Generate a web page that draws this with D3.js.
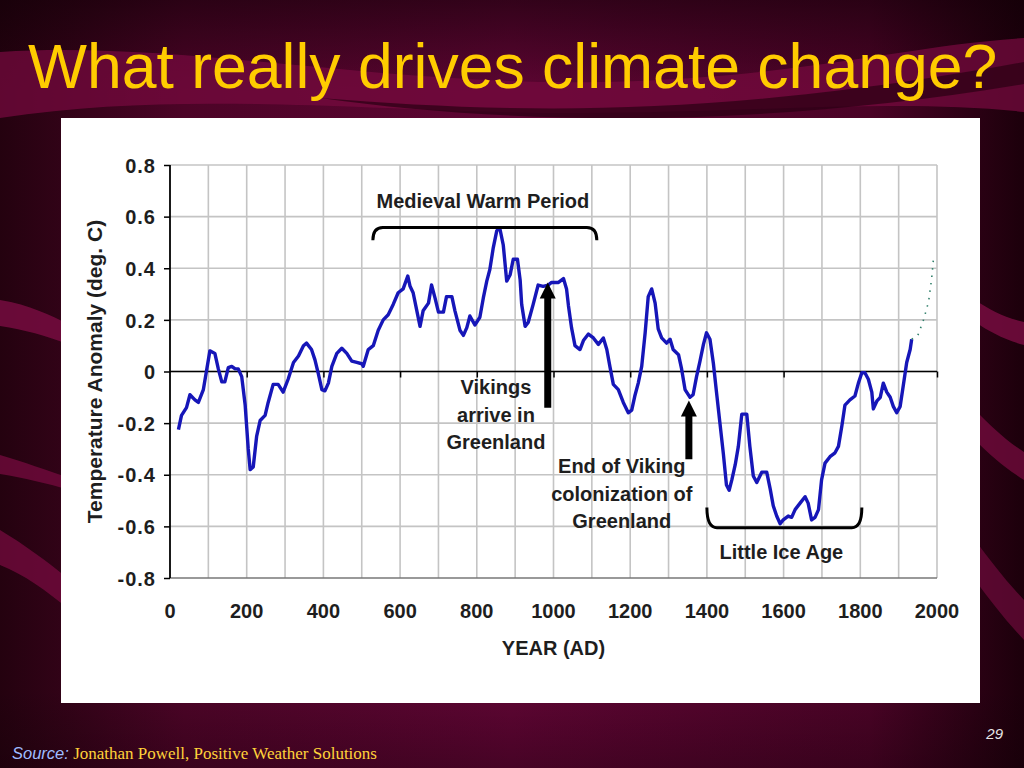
<!DOCTYPE html>
<html>
<head>
<meta charset="utf-8">
<script src="https://cdn.jsdelivr.net/npm/d3@7"></script>
<style>
  body { margin: 0; background: #3a0020; }
  svg { display: block; }
</style>
</head>
<body>
<svg id="slide" width="1024" height="768"></svg>
<script>
// reconstructed temperature anomaly (deg C) by year AD
var years = [22,30,43,52,65,74,87,96,104,117,126,135,143,152,161,170,178,187,196,204,209,217,226,235,248,256,269,282,295,308,322,335,348,356,369,378,387,396,404,413,422,435,448,461,474,487,500,
  504,517,530,543,556,569,582,595,608,620,626,634,643,652,660,674,682,691,700,713,721,735,743,756,765,774,782,795,808,817,826,834,843,852,860,869,878,887,895,906,913,917,926,934,947,960,973,986,
  995,1013,1026,1034,1039,1047,1056,1069,1078,1091,1104,1117,1130,1139,1147,1156,1169,1182,1195,1204,1212,1221,1230,1239,1247,1256,1265,1273,1282,1295,1304,1312,1326,1334,1343,1356,1364,1373,1382,1391,1399,1408,
  1417,1425,1434,1443,1451,1458,1465,1474,1482,1491,1504,1512,1521,1530,1543,1556,1565,1573,1582,1591,1599,1612,1621,1630,1643,1656,1664,1673,1682,1691,1699,1708,1721,1734,1743,1752,1760,1773,1786,1795,1804,1812,1821,1830,1834,1843,1852,1860,1869,1878,1886,1895,1904,1912,1921,1930,1934];
var anomaly = [-0.225,-0.17,-0.14,-0.09,-0.11,-0.12,-0.07,0.01,0.08,0.07,0.01,-0.04,-0.04,0.015,0.02,0.01,0.01,-0.02,-0.13,-0.30,-0.38,-0.37,-0.25,-0.19,-0.17,-0.12,-0.05,-0.05,-0.08,-0.03,0.035,0.06,0.10,0.11,0.085,0.045,-0.01,-0.07,-0.075,-0.045,0.02,0.07,0.09,0.07,0.04,0.035,0.03,
  0.02,0.085,0.10,0.16,0.20,0.22,0.26,0.305,0.32,0.37,0.33,0.305,0.24,0.175,0.235,0.265,0.335,0.285,0.23,0.23,0.29,0.29,0.235,0.16,0.14,0.17,0.215,0.18,0.21,0.285,0.35,0.395,0.48,0.545,0.555,0.49,0.35,0.375,0.435,0.435,0.355,0.26,0.175,0.19,0.26,0.335,0.33,0.335,
  0.345,0.345,0.36,0.32,0.255,0.17,0.10,0.085,0.12,0.145,0.13,0.105,0.13,0.085,0.02,-0.05,-0.07,-0.12,-0.16,-0.15,-0.095,-0.045,0.02,0.15,0.29,0.32,0.265,0.165,0.13,0.11,0.125,0.085,0.065,0.01,-0.07,-0.10,-0.09,-0.02,0.04,0.105,0.15,0.125,
  0.03,-0.08,-0.2,-0.32,-0.44,-0.46,-0.42,-0.36,-0.29,-0.165,-0.165,-0.29,-0.405,-0.43,-0.39,-0.39,-0.455,-0.52,-0.56,-0.59,-0.575,-0.56,-0.565,-0.535,-0.51,-0.485,-0.51,-0.575,-0.565,-0.535,-0.42,-0.355,-0.33,-0.315,-0.29,-0.21,-0.13,-0.11,-0.095,-0.045,-0.005,-0.005,-0.03,-0.08,-0.145,-0.115,-0.10,-0.045,-0.08,-0.10,-0.135,-0.16,-0.135,-0.055,0.035,0.085,0.125];

// dotted continuation at the right end
var recentYears = [1934,1950,1965,1978,1986,1991];
var recentAnomaly = [0.125,0.14,0.2,0.27,0.36,0.44];

var xTicks = [0,200,400,600,800,1000,1200,1400,1600,1800,2000];
var yTicks = [-0.8,-0.6,-0.4,-0.2,0,0.2,0.4,0.6,0.8];
var yTickLabels = ["-0.8","-0.6","-0.4","-0.2","0","0.2","0.4","0.6","0.8"];

// annotations (year, value)
var arrowYears = [985, 1353];
var arrowTips = [0.345, -0.112];
var arrowBases = [-0.14, -0.34];
var braceNames = ["Medieval Warm Period", "Little Ice Age"];
var braceStart = [529, 1400];
var braceEnd = [1113, 1804];
var braceLine = [0.558, -0.605];
var braceTip = [0.508, -0.527];
var noteLines = [["Vikings", "arrive in", "Greenland"], ["End of Viking", "colonization of", "Greenland"]];
var noteYears = [850, 1178];
var noteTop = [-0.089, -0.395];

var svg = d3.select("#slide");
var defs = svg.append("defs");

// ---- slide background ----
var bg = defs.append("linearGradient").attr("id", "bg").attr("x1", 0).attr("x2", 1).attr("y1", 0).attr("y2", 0);
bg.append("stop").attr("offset", 0).attr("stop-color", "#24020f");
bg.append("stop").attr("offset", 0.18).attr("stop-color", "#4c0427");
bg.append("stop").attr("offset", 0.5).attr("stop-color", "#5e0533");
bg.append("stop").attr("offset", 0.85).attr("stop-color", "#4a0326");
bg.append("stop").attr("offset", 1).attr("stop-color", "#1c000b");
svg.append("rect").attr("width", 1024).attr("height", 768).attr("fill", "url(#bg)");

var vshade = defs.append("linearGradient").attr("id", "vshade").attr("x1", 0).attr("x2", 0).attr("y1", 0).attr("y2", 1);
vshade.append("stop").attr("offset", 0).attr("stop-color", "#100006").attr("stop-opacity", 0.55);
vshade.append("stop").attr("offset", 0.12).attr("stop-color", "#100006").attr("stop-opacity", 0);
vshade.append("stop").attr("offset", 0.9).attr("stop-color", "#100006").attr("stop-opacity", 0);
vshade.append("stop").attr("offset", 1).attr("stop-color", "#100006").attr("stop-opacity", 0.3);
svg.append("rect").attr("width", 1024).attr("height", 768).attr("fill", "url(#vshade)");

// swooshes
svg.append("path")
  .attr("d", "M0,52 C180,40 380,86 600,82 C800,78 900,46 1024,38 L1024,112 C880,96 700,118 500,112 C300,106 160,94 0,118 Z")
  .attr("fill", "#74093d").attr("opacity", 0.75);
svg.append("path")
  .attr("d", "M320,98 C520,114 720,118 1024,62 L1024,84 C760,128 520,126 320,98 Z")
  .attr("fill", "#2a0012").attr("opacity", 0.7);
svg.append("path")
  .attr("d", "M0,300 C30,305 50,315 70,325 L70,345 C45,335 25,330 0,326 Z")
  .attr("fill", "#7a0c42").attr("opacity", 0.8);
svg.append("path")
  .attr("d", "M0,455 C25,462 45,470 70,478 L70,490 C45,483 25,478 0,474 Z")
  .attr("fill", "#7a0c42").attr("opacity", 0.7);
svg.append("path")
  .attr("d", "M0,530 C25,545 45,560 70,580 L70,610 C45,590 25,575 0,565 Z")
  .attr("fill", "#7a0c42").attr("opacity", 0.7);
svg.append("path")
  .attr("d", "M975,300 C990,310 1005,318 1024,322 L1024,345 C1005,340 990,332 975,322 Z")
  .attr("fill", "#7a0c42").attr("opacity", 0.8);
svg.append("path")
  .attr("d", "M975,410 C990,425 1005,440 1024,452 L1024,480 C1005,468 990,455 975,440 Z")
  .attr("fill", "#7a0c42").attr("opacity", 0.7);
svg.append("path")
  .attr("d", "M975,540 C990,560 1005,580 1024,600 L1024,640 C1005,620 990,600 975,580 Z")
  .attr("fill", "#7a0c42").attr("opacity", 0.6);

// title
svg.append("text")
  .attr("x", 28).attr("y", 88)
  .attr("font-family", "Liberation Sans, Arial, sans-serif")
  .attr("font-size", 62.5)
  .attr("fill", "#ffcc00")
  .text("What really drives climate change?");

// white panel
svg.append("rect").attr("x", 61).attr("y", 118).attr("width", 919).attr("height", 585).attr("fill", "#ffffff");

// ---- chart ----
var x = d3.scaleLinear().domain([0, 2000]).range([170, 937]);
var y = d3.scaleLinear().domain([-0.8, 0.8]).range([578, 165]);
var font = "Liberation Sans, Arial, sans-serif";
var ink = "#1e1e1e";

var g = svg.append("g");

// grid
g.append("g").selectAll("line").data(d3.range(100, 2001, 100)).enter().append("line")
  .attr("x1", function (d) { return x(d); }).attr("x2", function (d) { return x(d); })
  .attr("y1", y(0.8)).attr("y2", y(-0.8))
  .attr("stroke", "#c4c4c4").attr("stroke-width", 1.6);
g.append("g").selectAll("line").data(yTicks.slice(1)).enter().append("line")
  .attr("x1", x(0)).attr("x2", x(2000))
  .attr("y1", function (d) { return y(d); }).attr("y2", function (d) { return y(d); })
  .attr("stroke", "#c4c4c4").attr("stroke-width", 1.6);
g.append("line").attr("x1", x(0)).attr("x2", x(2000)).attr("y1", y(-0.8)).attr("y2", y(-0.8))
  .attr("stroke", "#777").attr("stroke-width", 1.6);

// y axis
var yAxis = g.append("g").attr("transform", "translate(" + x(0) + ",0)")
  .call(d3.axisLeft(y).tickValues(yTicks).tickSize(6).tickFormat(function (d, i) { return yTickLabels[i]; }));
yAxis.select(".domain").attr("stroke", "#000").attr("stroke-width", 1.8).attr("d", "M0," + y(0.8) + "V" + y(-0.8));
yAxis.selectAll(".tick line").attr("stroke", "#000").attr("stroke-width", 1.5);
yAxis.selectAll("text")
  .attr("font-family", font).attr("font-weight", "bold").attr("font-size", 20)
  .attr("fill", ink).attr("x", -14).attr("dy", "0.36em").attr("letter-spacing", 1);

// x axis crossing at zero
var xAxis = g.append("g").attr("transform", "translate(0," + y(0) + ")")
  .call(d3.axisBottom(x).tickValues(xTicks).tickSize(6).tickFormat(""));
xAxis.select(".domain").attr("stroke", "#000").attr("stroke-width", 1.6).attr("d", "M" + x(0) + ",0H" + x(2000));
xAxis.selectAll(".tick line").attr("stroke", "#000").attr("stroke-width", 1.5);
xAxis.selectAll(".tick").filter(function (d) { return d === 0; }).remove();

// x tick labels along the bottom
g.append("g").selectAll("text").data(xTicks).enter().append("text")
  .attr("x", function (d) { return x(d); }).attr("y", y(-0.8) + 40)
  .attr("text-anchor", "middle")
  .attr("font-family", font).attr("font-weight", "bold").attr("font-size", 20).attr("fill", ink)
  .text(function (d) { return d; });

// axis titles
g.append("text").attr("x", x(1000)).attr("y", 655).attr("text-anchor", "middle")
  .attr("font-family", font).attr("font-weight", "bold").attr("font-size", 20).attr("fill", ink)
  .text("YEAR (AD)");
g.append("text").attr("transform", "translate(102," + y(0) + ") rotate(-90)").attr("text-anchor", "middle")
  .attr("font-family", font).attr("font-weight", "bold").attr("font-size", 21).attr("fill", ink)
  .text("Temperature Anomaly (deg. C)");

// data line
var series = years.map(function (d, i) { return [d, anomaly[i]]; });
var line = d3.line().x(function (d) { return x(d[0]); }).y(function (d) { return y(d[1]); });
g.append("path").datum(series).attr("d", line)
  .attr("fill", "none").attr("stroke", "#1616b8").attr("stroke-width", 3.4).attr("stroke-linejoin", "round");

var recent = recentYears.map(function (d, i) { return [d, recentAnomaly[i]]; });
g.append("path").datum(recent).attr("d", line)
  .attr("fill", "none").attr("stroke", "#2f7f6a").attr("stroke-width", 1.6).attr("stroke-dasharray", "1.5,6");

// braces
braceNames.forEach(function (name, i) {
  var x0 = x(braceStart[i]), x1 = x(braceEnd[i]), yl = y(braceLine[i]), yt = y(braceTip[i]);
  var r = 10;
  g.append("path")
    .attr("d", "M" + x0 + "," + yt + " Q" + x0 + "," + yl + " " + (x0 + r) + "," + yl +
      " L" + (x1 - r) + "," + yl + " Q" + x1 + "," + yl + " " + x1 + "," + yt)
    .attr("fill", "none").attr("stroke", "#000").attr("stroke-width", 3);
  var ty = i === 0 ? yl - 19 : yl + 31;
  g.append("text").attr("x", (x0 + x1) / 2 - (i === 0 ? 2 : 3)).attr("y", ty).attr("text-anchor", "middle")
    .attr("font-family", font).attr("font-weight", "bold").attr("font-size", 20).attr("fill", ink)
    .text(name);
});

// arrows
arrowYears.forEach(function (yr, i) {
  var cx = x(yr), tip = y(arrowTips[i]), base = y(arrowBases[i]);
  g.append("path")
    .attr("d", "M" + (cx - 3.5) + "," + base + "V" + (tip + 16) + "H" + (cx - 8) + "L" + cx + "," + tip +
      "L" + (cx + 8) + "," + (tip + 16) + "H" + (cx + 3.5) + "V" + base + "Z")
    .attr("fill", "#000");
});

// notes
noteLines.forEach(function (lines, i) {
  var t = g.append("text").attr("text-anchor", "middle")
    .attr("font-family", font).attr("font-weight", "bold").attr("font-size", 20).attr("fill", ink);
  lines.forEach(function (s, k) {
    t.append("tspan").attr("x", x(noteYears[i])).attr("y", y(noteTop[i]) + k * 27.5).text(s);
  });
});

// ---- footer ----
svg.append("text").attr("x", 1003).attr("y", 739).attr("text-anchor", "end")
  .attr("font-family", font).attr("font-style", "italic").attr("font-size", 15).attr("fill", "#e6e6e6")
  .text("29");
var src = svg.append("text").attr("x", 12).attr("y", 759);
src.append("tspan").attr("font-family", font).attr("font-style", "italic").attr("font-size", 16.5).attr("fill", "#9fbcff").text("Source:");
src.append("tspan").attr("font-family", "Liberation Serif, Times New Roman, serif").attr("font-size", 17).attr("fill", "#ffd23a")
  .text(" Jonathan Powell, Positive Weather Solutions");
</script>
</body>
</html>
